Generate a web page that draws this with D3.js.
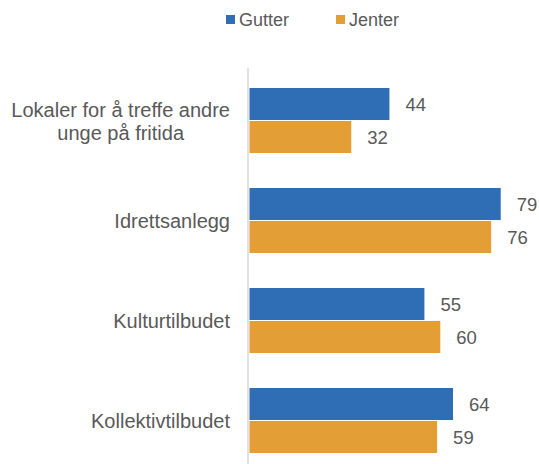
<!DOCTYPE html>
<html>
<head>
<meta charset="utf-8">
<script src="https://cdn.jsdelivr.net/npm/d3@7"></script>
<style>
  body { margin: 0; background: #fff; font-family: "Liberation Sans", Arial, sans-serif; }
  text { fill: #595959; }
</style>
</head>
<body>
<script>
// data
const categories = [["Lokaler for å treffe andre", "unge på fritida"], ["Idrettsanlegg"], ["Kulturtilbudet"], ["Kollektivtilbudet"]];
const series = ["Gutter", "Jenter"];
const gutter = [44, 79, 55, 64];
const jenter = [32, 76, 60, 59];
const colors = ["#2f6db5", "#e39e35"];

const width = 539, height = 464;
const svg = d3.select("body").append("svg").attr("width", width).attr("height", height);

const x = d3.scaleLinear().domain([0, 100]).range([249.5, 567.5]);
const y = d3.scaleBand().domain(d3.range(categories.length)).range([71, 471]).paddingInner(0.34).paddingOuter(0.17);
const ySub = d3.scaleBand().domain(series).range([0, y.bandwidth()]);

const values = { Gutter: gutter, Jenter: jenter };

// axis line
svg.append("line")
  .attr("x1", 248).attr("x2", 248)
  .attr("y1", 68).attr("y2", height)
  .attr("stroke", "#d9d9d9").attr("stroke-width", 1.5);

series.forEach((s, si) => {
  const g = svg.append("g");
  g.selectAll("rect").data(values[s]).join("rect")
    .attr("x", x(0))
    .attr("y", (d, i) => y(i) + ySub(s))
    .attr("width", d => x(d) - x(0))
    .attr("height", ySub.bandwidth() - 1)
    .attr("fill", colors[si]);
  g.selectAll("text").data(values[s]).join("text")
    .attr("x", d => x(d) + 16)
    .attr("y", (d, i) => y(i) + ySub(s) + ySub.bandwidth() / 2)
    .attr("dy", "0.35em")
    .attr("font-size", 18.5)
    .text(d => d);
});

// category labels: block right-aligned, lines centred within block
categories.forEach((lines, i) => {
  const g = svg.append("g");
  const ts = lines.map(l => g.append("text").attr("font-size", 20).text(l));
  const w = d3.max(ts, t => t.node().getComputedTextLength());
  const cx = 230 - w / 2;
  const lh = 23;
  const cy = y(i) + y.bandwidth() / 2;
  ts.forEach((t, j) => {
    t.attr("x", cx).attr("text-anchor", "middle")
      .attr("y", cy + (j - (lines.length - 1) / 2) * lh)
      .attr("dy", "0.35em");
  });
});

// legend
const legX = [226, 336];
series.forEach((s, si) => {
  svg.append("rect").attr("x", legX[si]).attr("y", 15).attr("width", 9).attr("height", 9).attr("fill", colors[si]);
  svg.append("text").attr("x", legX[si] + 13).attr("y", 20).attr("dy", "0.35em")
    .attr("font-size", 18).text(s);
});
</script>
</body>
</html>
